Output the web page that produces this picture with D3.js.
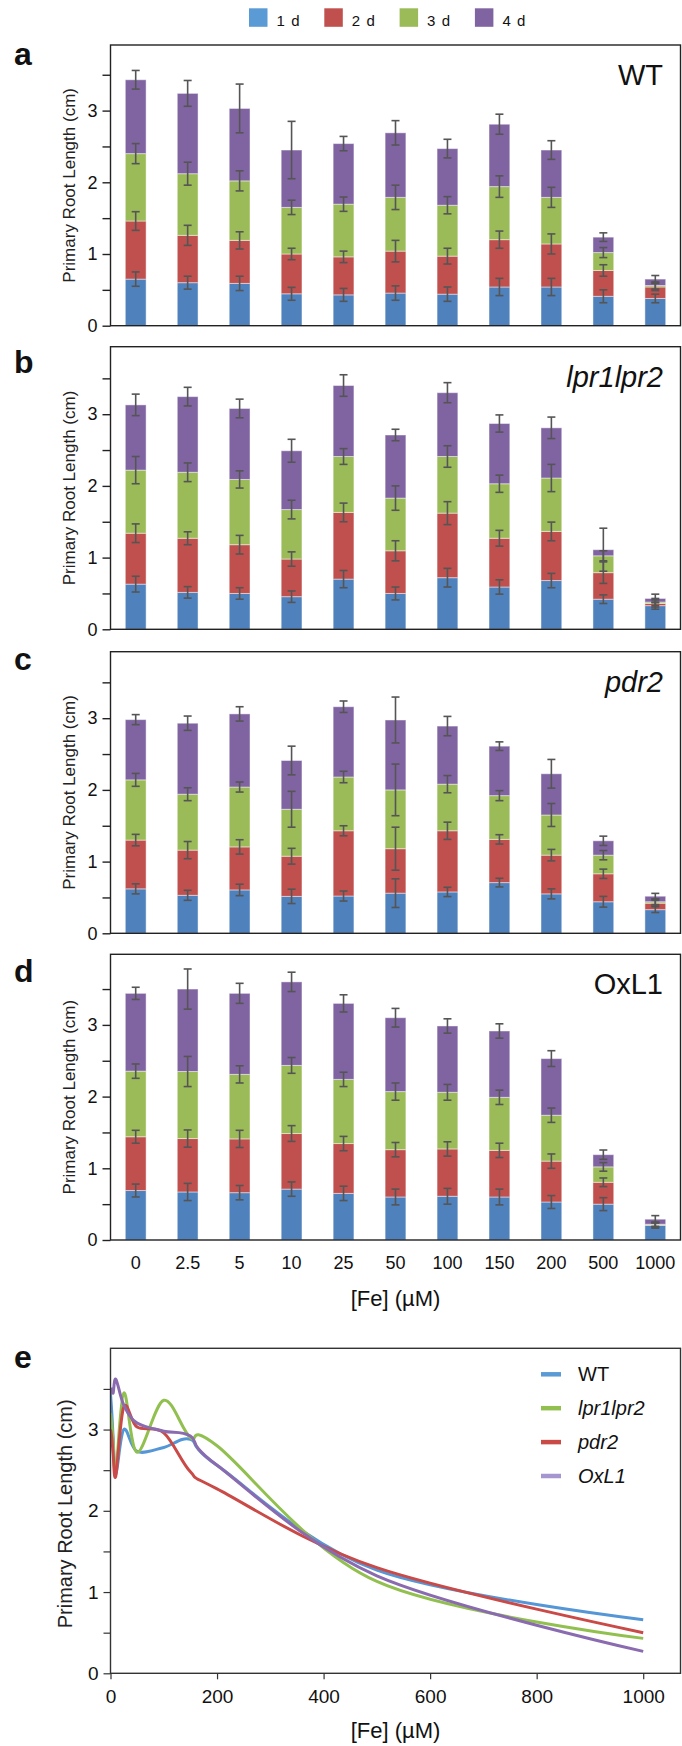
<!DOCTYPE html>
<html>
<head>
<meta charset="utf-8">
<script src="https://cdn.jsdelivr.net/npm/d3@7"></script>
<style>
  body { margin: 0; background: #fff; }
  svg { display: block; font-family: "Liberation Sans", Arial, sans-serif; }
</style>
</head>
<body>
<svg id="fig" width="682" height="1746"></svg>
<script>
// ---- data ----
const feLabels = ["0", "2.5", "5", "10", "25", "50", "100", "150", "200", "500", "1000"];
const feConc = [0, 2.5, 5, 10, 25, 50, 100, 150, 200, 500, 1000];
const days = ["1 d", "2 d", "3 d", "4 d"];

// root length (cm) reached after 1..4 days, and the error bars
const wtLen = [
  [0.65, 0.60, 0.59, 0.445, 0.43, 0.455, 0.44, 0.54, 0.54, 0.41, 0.38],
  [1.46, 1.26, 1.19, 1.00, 0.96, 1.04, 0.97, 1.20, 1.14, 0.77, 0.54],
  [2.40, 2.12, 2.02, 1.65, 1.695, 1.79, 1.68, 1.94, 1.79, 1.02, 0.56],
  [3.43, 3.24, 3.03, 2.45, 2.54, 2.69, 2.47, 2.81, 2.45, 1.235, 0.65]
];
const wtErr = [
  [0.10, 0.09, 0.10, 0.09, 0.09, 0.10, 0.10, 0.12, 0.12, 0.09, 0.06],
  [0.13, 0.14, 0.12, 0.08, 0.08, 0.15, 0.11, 0.12, 0.14, 0.08, 0.05],
  [0.14, 0.16, 0.14, 0.10, 0.10, 0.17, 0.12, 0.15, 0.14, 0.07, 0.05],
  [0.13, 0.18, 0.34, 0.40, 0.10, 0.17, 0.13, 0.14, 0.13, 0.06, 0.05]
];
const lprLen = [
  [0.63, 0.515, 0.50, 0.455, 0.70, 0.50, 0.72, 0.59, 0.68, 0.42, 0.33],
  [1.34, 1.27, 1.18, 0.98, 1.63, 1.095, 1.62, 1.27, 1.365, 0.79, 0.36],
  [2.22, 2.19, 2.09, 1.67, 2.41, 1.83, 2.41, 2.03, 2.11, 1.025, 0.38],
  [3.13, 3.245, 3.08, 2.49, 3.40, 2.71, 3.30, 2.87, 2.81, 1.11, 0.43]
];
const lprErr = [
  [0.11, 0.08, 0.08, 0.08, 0.12, 0.09, 0.13, 0.10, 0.10, 0.06, 0.05],
  [0.13, 0.09, 0.13, 0.10, 0.13, 0.14, 0.16, 0.11, 0.13, 0.15, 0.05],
  [0.19, 0.13, 0.12, 0.13, 0.11, 0.17, 0.15, 0.12, 0.19, 0.07, 0.05],
  [0.15, 0.13, 0.13, 0.16, 0.15, 0.08, 0.14, 0.12, 0.15, 0.30, 0.06]
];
const pdrLen = [
  [0.62, 0.53, 0.605, 0.515, 0.52, 0.56, 0.577, 0.707, 0.55, 0.44, 0.33],
  [1.30, 1.16, 1.205, 1.075, 1.43, 1.18, 1.43, 1.31, 1.09, 0.83, 0.42],
  [2.14, 1.94, 2.04, 1.73, 2.18, 2.00, 2.08, 1.92, 1.65, 1.09, 0.44],
  [2.98, 2.93, 3.06, 2.41, 3.16, 2.975, 2.89, 2.61, 2.225, 1.29, 0.517]
];
const pdrErr = [
  [0.07, 0.07, 0.08, 0.10, 0.07, 0.20, 0.065, 0.06, 0.07, 0.075, 0.04],
  [0.08, 0.12, 0.10, 0.11, 0.07, 0.30, 0.12, 0.065, 0.08, 0.065, 0.04],
  [0.09, 0.09, 0.07, 0.25, 0.08, 0.36, 0.12, 0.07, 0.16, 0.065, 0.04],
  [0.07, 0.10, 0.10, 0.20, 0.08, 0.32, 0.135, 0.06, 0.20, 0.065, 0.04]
];
const oxLen = [
  [0.69, 0.67, 0.66, 0.71, 0.65, 0.60, 0.61, 0.60, 0.53, 0.50, 0.205],
  [1.44, 1.415, 1.41, 1.485, 1.345, 1.26, 1.27, 1.25, 1.10, 0.805, 0.21],
  [2.355, 2.35, 2.31, 2.435, 2.24, 2.07, 2.06, 1.99, 1.74, 1.02, 0.22],
  [3.44, 3.50, 3.44, 3.60, 3.30, 3.10, 2.985, 2.915, 2.53, 1.19, 0.29]
];
const oxErr = [
  [0.09, 0.12, 0.10, 0.10, 0.10, 0.11, 0.11, 0.11, 0.09, 0.09, 0.04],
  [0.09, 0.12, 0.12, 0.11, 0.10, 0.10, 0.10, 0.10, 0.10, 0.06, 0.03],
  [0.10, 0.21, 0.12, 0.11, 0.10, 0.12, 0.11, 0.10, 0.10, 0.06, 0.03],
  [0.085, 0.28, 0.14, 0.135, 0.12, 0.13, 0.10, 0.10, 0.11, 0.065, 0.05]
];

// panel e: smoothed curves
const lineNames = ["WT", "lpr1lpr2", "pdr2", "OxL1"];
const curveWT  = [3.44, 3.2, 2.9, 2.45, 3.0, 2.73, 2.78, 2.88, 2.56, 1.27, 0.66];
const curveLpr = [3.2, 3.05, 2.85, 2.48, 3.45, 2.72, 3.36, 2.9, 2.8, 1.13, 0.43];
const curvePdr = [3.0, 2.9, 2.7, 2.43, 3.28, 3.03, 2.96, 2.48, 2.27, 1.3, 0.5];
const curveOx  = [3.44, 3.5, 3.45, 3.62, 3.3, 3.08, 2.98, 2.92, 2.56, 1.2, 0.27];

// ---- styles ----
const dayColors = ["#4f81bd", "#c0504d", "#9bbb59", "#8064a2"];
const legendColors = ["#5b9bd5", "#c0504d", "#9bbb59", "#8064a2"];
const lineColors = ["#5596d6", "#92c050", "#c94a47", "#8a6bb0"];
const lineLegendColors = ["#5b9bd5", "#92c050", "#c94a47", "#a596cf"];
const errColor = "#555";

const svg = d3.select("#fig");
const K = 71.7; // px per cm in panels a-d
const left = 110.5, right = 680.5;

// top legend
const leg = svg.append("g");
days.forEach((d, i) => {
  leg.append("rect").attr("x", 249 + i * 75.3).attr("y", 8.3)
    .attr("width", 18.5).attr("height", 18.5).attr("fill", legendColors[i]);
  leg.append("text").attr("x", 249 + i * 75.3 + 27.5).attr("y", 25.5)
    .attr("font-size", 15).attr("letter-spacing", 1.1).attr("fill", "#111").text(d);
});

const panels = [
  {key: "a", name: "WT", italic: false, top: 45, bottom: 325.7, lens: wtLen, errs: wtErr, keyBase: 65},
  {key: "b", name: "lpr1lpr2", italic: true, top: 346.7, bottom: 629.3, lens: lprLen, errs: lprErr, keyBase: 373},
  {key: "c", name: "pdr2", italic: true, top: 651.7, bottom: 933.3, lens: pdrLen, errs: pdrErr, keyBase: 670},
  {key: "d", name: "OxL1", italic: false, top: 954.3, bottom: 1240, lens: oxLen, errs: oxErr, keyBase: 981.7}
];

const x = d3.scaleBand().domain(feLabels).range([left, right])
  .paddingInner(0.6).paddingOuter(0.285);

panels.forEach((p, pi) => {
  const g = svg.append("g");
  const y = d3.scaleLinear().domain([0, (p.bottom - p.top) / K]).range([p.bottom, p.top]);

  // stacked segments: from previous day's length up to this day's
  p.lens.forEach((len, di) => {
    g.selectAll(null).data(len).enter().append("rect")
      .attr("x", (d, j) => x(feLabels[j]))
      .attr("width", x.bandwidth())
      .attr("y", d => y(d))
      .attr("height", (d, j) => Math.max(0, y(di ? p.lens[di - 1][j] : 0) - y(d)))
      .attr("fill", dayColors[di])
      .attr("stroke", "rgba(255,255,255,0.45)")
      .attr("stroke-width", 1);
  });

  // error bars
  p.lens.forEach((len, di) => {
    const eg = g.append("g").attr("stroke", errColor).attr("stroke-width", 1.6);
    len.forEach((v, j) => {
      const cx = x(feLabels[j]) + x.bandwidth() / 2;
      const e = p.errs[di][j];
      eg.append("line").attr("x1", cx).attr("x2", cx).attr("y1", y(v - e)).attr("y2", y(v + e));
      eg.append("line").attr("x1", cx - 4).attr("x2", cx + 4).attr("y1", y(v - e)).attr("y2", y(v - e));
      eg.append("line").attr("x1", cx - 4).attr("x2", cx + 4).attr("y1", y(v + e)).attr("y2", y(v + e));
    });
  });

  // y axis
  const ya = g.append("g").attr("transform", `translate(${left},0)`)
    .call(d3.axisLeft(y).tickValues([0, 0.5, 1, 1.5, 2, 2.5, 3, 3.5])
      .tickFormat(d => d % 1 === 0 ? d : "").tickSize(8).tickPadding(5));
  ya.select(".domain").remove();
  ya.selectAll("line").attr("stroke", "#222").attr("stroke-width", 1.4);
  ya.selectAll("text").attr("font-size", 18).attr("fill", "#111").attr("font-family", null);

  // frame
  g.append("rect").attr("x", left).attr("y", p.top)
    .attr("width", right - left).attr("height", p.bottom - p.top)
    .attr("fill", "none").attr("stroke", "#222").attr("stroke-width", 1.4);

  g.append("text").attr("transform", `translate(75,${(p.top + p.bottom) / 2}) rotate(-90)`)
    .attr("text-anchor", "middle").attr("font-size", 17).attr("fill", "#222")
    .text("Primary Root Length (cm)");

  g.append("text").attr("x", 14).attr("y", p.keyBase)
    .attr("font-size", 32).attr("font-weight", "bold").attr("fill", "#111").text(p.key);

  g.append("text").attr("x", 663).attr("y", p.top + 40)
    .attr("text-anchor", "end").attr("font-size", 29)
    .attr("font-style", p.italic ? "italic" : "normal").attr("fill", "#111").text(p.name);

  if (pi === panels.length - 1) {
    const xa = g.append("g").attr("transform", `translate(0,${p.bottom})`)
      .call(d3.axisBottom(x).tickSize(0).tickPadding(16));
    xa.select(".domain").remove();
    xa.selectAll("text").attr("font-size", 18).attr("fill", "#111").attr("font-family", null);
    g.append("text").attr("x", (left + right) / 2).attr("y", 1306)
      .attr("text-anchor", "middle").attr("font-size", 22).attr("fill", "#111").text("[Fe] (µM)");
  }
});

// ---- panel e ----
const eTop = 1348.3, eBottom = 1673.3;
const xe = d3.scaleLinear().domain([0, 1070]).range([left, right]);
const ye = d3.scaleLinear().domain([0, 4]).range([eBottom, eTop]);
const ge = svg.append("g");

ge.append("clipPath").attr("id", "eclip").append("rect")
  .attr("x", left).attr("y", eTop).attr("width", right - left).attr("height", eBottom - eTop);

const curves = [curveWT, curveLpr, curvePdr, curveOx];
const line = d3.line().x((d, i) => xe(feConc[i])).y(d => ye(d)).curve(d3.curveCardinal.tension(0));
curves.forEach((c, i) => {
  ge.append("path").attr("d", line(c)).attr("fill", "none")
    .attr("stroke", lineColors[i]).attr("stroke-width", 3)
    .attr("stroke-linejoin", "round").attr("clip-path", "url(#eclip)");
});

const yea = ge.append("g").attr("transform", `translate(${left},0)`)
  .call(d3.axisLeft(ye).tickValues([0, 0.5, 1, 1.5, 2, 2.5, 3, 3.5])
    .tickFormat(d => d % 1 === 0 ? d : "").tickSize(7).tickPadding(5));
yea.select(".domain").remove();
yea.selectAll("line").attr("stroke", "#333").attr("stroke-width", 1.2);
yea.selectAll("text").attr("font-size", 19).attr("fill", "#111").attr("font-family", null);

const xea = ge.append("g").attr("transform", `translate(0,${eBottom})`)
  .call(d3.axisBottom(xe).tickValues([0, 200, 400, 600, 800, 1000])
    .tickFormat(d3.format("d")).tickSize(6).tickPadding(10));
xea.select(".domain").remove();
xea.selectAll("line").attr("stroke", "#333").attr("stroke-width", 1.2);
xea.selectAll("text").attr("font-size", 19).attr("fill", "#111").attr("font-family", null);

ge.append("rect").attr("x", left).attr("y", eTop)
  .attr("width", right - left).attr("height", eBottom - eTop)
  .attr("fill", "none").attr("stroke", "#333").attr("stroke-width", 1.4);

ge.append("text").attr("transform", `translate(72,${(eTop + eBottom) / 2 + 3}) rotate(-90)`)
  .attr("text-anchor", "middle").attr("font-size", 20).attr("fill", "#222")
  .text("Primary Root Length (cm)");

ge.append("text").attr("x", (left + right) / 2).attr("y", 1738)
  .attr("text-anchor", "middle").attr("font-size", 22).attr("fill", "#111").text("[Fe] (µM)");

ge.append("text").attr("x", 14).attr("y", 1368)
  .attr("font-size", 32).attr("font-weight", "bold").attr("fill", "#111").text("e");

lineNames.forEach((n, i) => {
  const cy = 1374.3 + i * 33.9;
  ge.append("line").attr("x1", 541).attr("x2", 561).attr("y1", cy).attr("y2", cy)
    .attr("stroke", lineLegendColors[i]).attr("stroke-width", 4.5);
  ge.append("text").attr("x", 578).attr("y", cy + 7).attr("font-size", 20)
    .attr("font-style", i === 0 ? "normal" : "italic").attr("fill", "#111").text(n);
});
</script>
</body>
</html>
